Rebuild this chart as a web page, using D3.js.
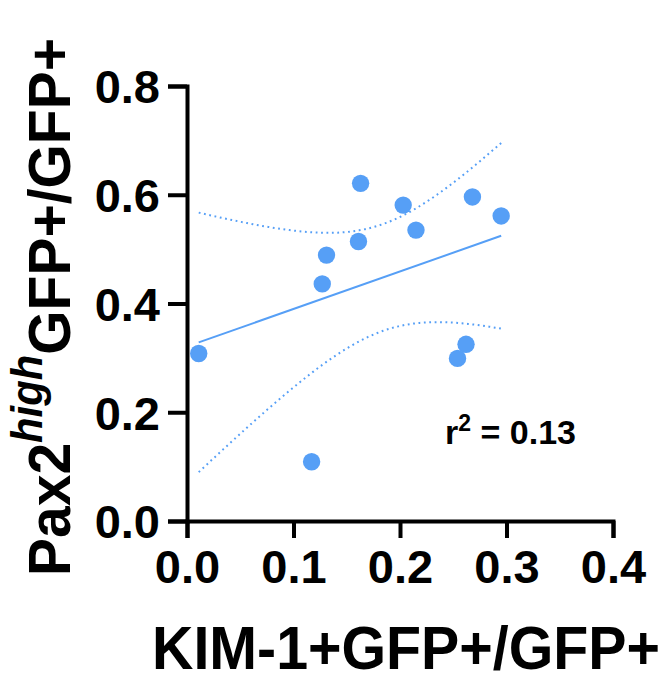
<!DOCTYPE html>
<html>
<head>
<meta charset="utf-8">
<script src="https://cdn.jsdelivr.net/npm/d3@7"></script>
<style>
  body { margin: 0; background: white; }
  text { font-family: "Liberation Sans", Arial, sans-serif; font-weight: bold; }
</style>
</head>
<body>
<div id="chart"></div>
<script>
var svgWidth = 666;
var svgHeight = 677;
var margin = {top: 86, right: 53, bottom: 156, left: 187};
var plotWidth = svgWidth - margin.left - margin.right;
var plotHeight = svgHeight - margin.top - margin.bottom;
var blue = "#569ff6";

// data
var kimValues = [0.011, 0.163, 0.203, 0.268, 0.295, 0.215, 0.161, 0.131, 0.127, 0.262, 0.254, 0.117];
var paxValues = [0.308, 0.621, 0.581, 0.596, 0.561, 0.535, 0.514, 0.489, 0.436, 0.325, 0.299, 0.109];
var xTicks = [0, 0.1, 0.2, 0.3, 0.4];
var yTicks = [0, 0.2, 0.4, 0.6, 0.8];
var rSquaredLabel = "0.13";
var tCrit = 2.228; // t(0.975, df = 10)

var points = kimValues.map(function(d, i){ return {x: d, y: paxValues[i]}; });

var svg = d3.select("#chart")
	.append("svg")
	.attr("width", svgWidth)
	.attr("height", svgHeight);

var xScale = d3.scaleLinear().domain([0, 0.4]).range([margin.left, margin.left + plotWidth]);
var yScale = d3.scaleLinear().domain([0, 0.8]).range([margin.top + plotHeight, margin.top]);

// linear regression + 95% confidence band
var n = points.length;
var meanX = d3.mean(kimValues);
var meanY = d3.mean(paxValues);
var sxx = d3.sum(kimValues, function(d){ return (d - meanX) * (d - meanX); });
var sxy = d3.sum(points, function(d){ return (d.x - meanX) * (d.y - meanY); });
var slope = sxy / sxx;
var intercept = meanY - slope * meanX;
var sse = d3.sum(points, function(d){ var e = d.y - (intercept + slope * d.x); return e * e; });
var s = Math.sqrt(sse / (n - 2));
var xMin = d3.min(kimValues), xMax = d3.max(kimValues);
var band = d3.range(0, 101).map(function(i){
	var x = xMin + (xMax - xMin) * i / 100;
	var fit = intercept + slope * x;
	var half = tCrit * s * Math.sqrt(1 / n + (x - meanX) * (x - meanX) / sxx);
	return {x: x, lo: fit - half, hi: fit + half};
});

var axisX = svg.append("g")
	.attr("transform", "translate(0," + (margin.top + plotHeight) + ")")
	.call(d3.axisBottom(xScale).tickValues(xTicks).tickFormat(d3.format(".1f")).tickSizeOuter(0).tickSize(17).tickPadding(12));
var axisY = svg.append("g")
	.attr("transform", "translate(" + margin.left + ",0)")
	.call(d3.axisLeft(yScale).tickValues(yTicks).tickFormat(d3.format(".1f")).tickSizeOuter(0).tickSize(19).tickPadding(8));

[axisX, axisY].forEach(function(ax){
	ax.select(".domain").attr("stroke", "black").attr("stroke-width", 4);
	ax.selectAll(".tick line").attr("stroke", "black").attr("stroke-width", 4);
	ax.selectAll(".tick text")
		.attr("fill", "black")
		.style("font-size", "47px")
		.style("font-family", "'Liberation Sans', Arial, sans-serif")
		.style("font-weight", "bold");
});
axisY.selectAll(".tick text").attr("dy", "0.36em");

var lineGen = d3.line().x(function(d){ return xScale(d.x); });

svg.append("path")
	.datum(band)
	.attr("d", lineGen.y(function(d){ return yScale(d.hi); }))
	.attr("fill", "none")
	.attr("stroke", blue)
	.attr("stroke-width", 2)
	.attr("stroke-dasharray", "1.8,3.6");
svg.append("path")
	.datum(band)
	.attr("d", lineGen.y(function(d){ return yScale(d.lo); }))
	.attr("fill", "none")
	.attr("stroke", blue)
	.attr("stroke-width", 2)
	.attr("stroke-dasharray", "1.8,3.6");

svg.append("line")
	.attr("x1", xScale(xMin))
	.attr("y1", yScale(intercept + slope * xMin))
	.attr("x2", xScale(xMax))
	.attr("y2", yScale(intercept + slope * xMax))
	.attr("stroke", blue)
	.attr("stroke-width", 2);

svg.append("g")
	.selectAll("circle")
	.data(points)
	.enter()
	.append("circle")
	.attr("cx", function(d){ return xScale(d.x); })
	.attr("cy", function(d){ return yScale(d.y); })
	.attr("r", 8.7)
	.attr("fill", blue);

// r squared
var rText = svg.append("text")
	.attr("x", 445)
	.attr("y", 444)
	.style("font-size", "34px");
rText.append("tspan").text("r");
rText.append("tspan").attr("dy", -13).style("font-size", "23px").text("2");
rText.append("tspan").attr("dy", 13).text(" = " + rSquaredLabel);

// x title
svg.append("text")
	.attr("x", 152)
	.attr("y", 669)
	.attr("textLength", 508)
	.attr("lengthAdjust", "spacingAndGlyphs")
	.style("font-size", "61px")
	.text("KIM-1+GFP+/GFP+");

// y title
var yTitle = svg.append("text")
	.attr("transform", "translate(70,576) rotate(-90) scale(0.95,1)")
	.style("font-size", "60px");
yTitle.append("tspan").text("Pax2");
yTitle.append("tspan").attr("dy", -28).style("font-size", "44px").style("font-style", "italic").text("high");
yTitle.append("tspan").attr("dy", 28).text("GFP+/GFP+");
</script>
</body>
</html>
